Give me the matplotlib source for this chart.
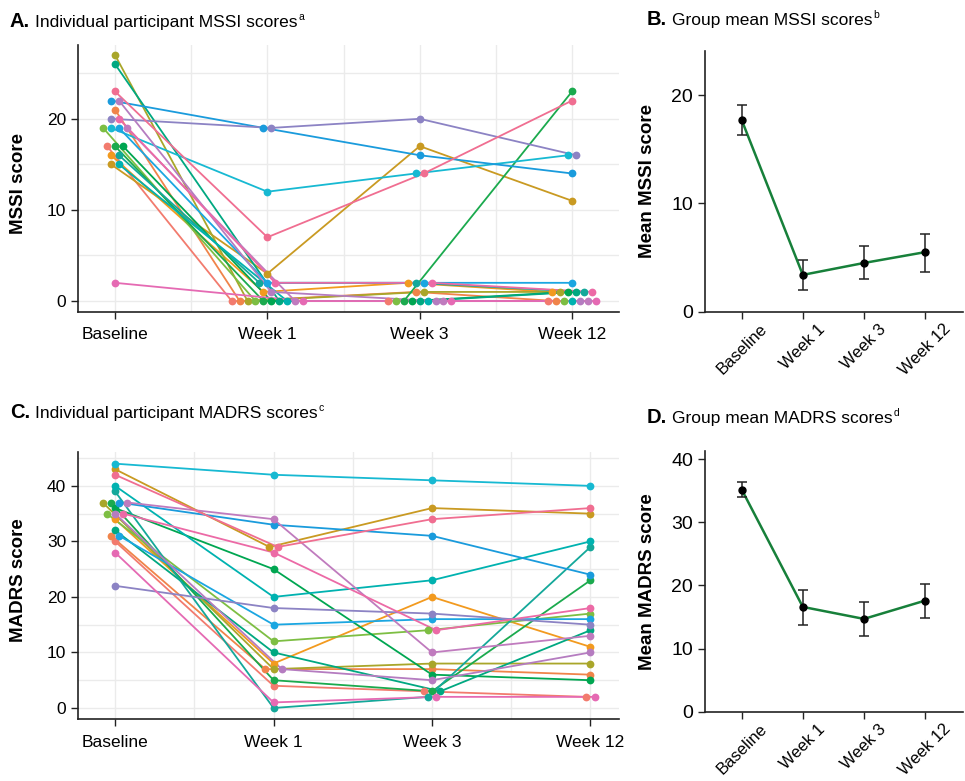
import matplotlib
matplotlib.use('Agg')
import matplotlib.pyplot as plt
import numpy as np

plt.rcParams['font.family'] = ['Liberation Sans', 'DejaVu Sans']

visits = ['Baseline', 'Week 1', 'Week 3', 'Week 12']

# one colour per participant (hue order)
colors = ['#F27B6E', '#F0844A', '#F29A1F', '#C99A22', '#A9A62A',
          '#7DBE43', '#1BAA4E', '#00A651', '#00A881', '#14A89A',
          '#00B2B0', '#17B9D2', '#1BA6E1', '#1A9BDC', '#8C83C4',
          '#B57CC0', '#C07BBE', '#E56AB3', '#EC6AA6', '#F06E91']

# MSSI per participant: baseline, wk1, wk3, wk12
mssi = [[17, 0, 0, 0], [21, 0, 1, 0], [16, 1, 2, 1], [15, 3, 17, 11],
        [27, 0, 1, 1], [19, 0, 0, 0], [17, 0, 0, 23], [17, 0, 0, 1],
        [26, 0, 0, 1], [16, 2, 2, 1], [15, 0, 0, 0], [19, 12, 14, 16],
        [19, 2, 2, 2], [22, 19, 16, 14], [20, 19, 20, 16], [22, 1, 0, 0],
        [19, 0, 0, 0], [2, 0, 0, 0], [20, 2, 2, 1], [23, 7, 14, 22]]

# MADRS per participant
madrs = [[30, 4, 3, 2], [31, 7, 7, 6], [34, 8, 20, 11], [43, 29, 36, 35],
         [37, 7, 8, 8], [35, 12, 14, 17], [37, 5, 3, 23], [36, 25, 6, 5],
         [32, 10, 3, 14], [39, 0, 2, 29], [40, 20, 23, 30], [44, 42, 41, 40],
         [31, 15, 16, 16], [37, 33, 31, 24], [22, 18, 17, 15], [35, 7, 5, 10],
         [37, 34, 10, 13], [28, 1, 2, 2], [35, 28, 14, 18], [42, 29, 34, 36]]

mssi_mean = [17.7, 3.4, 4.5, 5.5]
mssi_lo = [16.3, 2.0, 3.0, 3.7]
mssi_hi = [19.1, 4.8, 6.1, 7.2]

madrs_mean = [35.2, 16.6, 14.7, 17.6]
madrs_lo = [34.0, 13.8, 12.0, 14.8]
madrs_hi = [36.4, 19.3, 17.4, 20.3]

W, H = 965, 781
fig = plt.figure(figsize=(W / 100, H / 100), dpi=100)


def box(l, t, r, b):
    return [l / W, 1 - b / H, (r - l) / W, (b - t) / H]


def dodge(scores, step=0.052):
    scores = np.array(scores, float)
    off = np.zeros_like(scores)
    for j in range(scores.shape[1]):
        for v in np.unique(scores[:, j]):
            idx = np.where(scores[:, j] == v)[0]
            off[idx, j] = (np.arange(len(idx)) - (len(idx) - 1) / 2) * step
    return off


def individual(ax, scores, ylabel, ymax, ylim, xlim, ylab_y):
    x = np.arange(len(visits))
    off = dodge(scores)
    for i, row in enumerate(scores):
        ax.plot(x + off[i], row, color=colors[i], lw=1.3, zorder=2)
    for i, row in enumerate(scores):
        ax.plot(x + off[i], row, 'o', color=colors[i], ms=5.6, mec='none', zorder=3)
    ax.set_xlim(xlim)
    ax.set_ylim(ylim)
    ax.set_xticks(x)
    ax.set_xticklabels(visits)
    ax.set_xticks([0.5, 1.5, 2.5], minor=True)
    ax.set_yticks(np.arange(0, ymax + 1, 10))
    ax.set_yticks(np.arange(5, ylim[1], 10), minor=True)
    ax.tick_params(axis='both', which='major', labelsize=12.5, length=5, width=1, color='#222222')
    ax.tick_params(axis='x', which='major', pad=6)
    ax.tick_params(axis='both', which='minor', length=0)
    ax.grid(True, which='both', color='#EBEBEB', lw=1)
    ax.set_axisbelow(True)
    for s in ['top', 'right']:
        ax.spines[s].set_visible(False)
    for s in ['left', 'bottom']:
        ax.spines[s].set_color('#222222')
        ax.spines[s].set_linewidth(1.2)
    ax.set_ylabel(ylabel, fontsize=13.5, fontweight='bold')
    ax.yaxis.set_label_coords(-0.094, ylab_y)


def group(ax, mean, lo, hi, ylabel, yticks, ylim):
    x = np.arange(len(visits))
    mean = np.array(mean)
    err = [mean - np.array(lo), np.array(hi) - mean]
    ax.plot(x, mean, color='#17803A', lw=1.8, zorder=2)
    ax.errorbar(x, mean, yerr=err, fmt='o', color='black', ms=5, ecolor='#222222',
                elinewidth=1.1, capsize=3.3, capthick=1.1, zorder=3)
    ax.set_xlim(-0.6, 3.62)
    ax.set_ylim(ylim)
    ax.set_xticks(x)
    ax.set_xticklabels(visits, rotation=45, ha='center')
    ax.set_yticks(yticks)
    ax.tick_params(axis='y', labelsize=14, length=5, width=1, color='#222222')
    ax.tick_params(axis='x', labelsize=12, length=5, width=1, color='#222222', pad=2)
    for s in ['top', 'right']:
        ax.spines[s].set_visible(False)
    for s in ['left', 'bottom']:
        ax.spines[s].set_color('#222222')
        ax.spines[s].set_linewidth(1.2)
    ax.set_ylabel(ylabel, fontsize=13.5, fontweight='bold')
    ax.yaxis.set_label_coords(-0.19, 0.5)


def title(x, y, letter, text, sup):
    r = fig.canvas.get_renderer()
    t = fig.text(x / W, 1 - y / H, letter, fontsize=14.5, fontweight='bold', va='baseline')
    bb = t.get_window_extent(r)
    t = fig.text(bb.x1 / W + 5 / W, 1 - y / H, text, fontsize=12.5, va='baseline')
    bb = t.get_window_extent(r)
    fig.text(bb.x1 / W + 1 / W, 1 - (y - 7) / H, sup, fontsize=7.5, va='baseline')


axA = fig.add_axes(box(78, 45, 619, 311.7))
individual(axA, mssi, 'MSSI score', 20, (-1.17, 28.1), (-0.243, 3.308), 0.48)

axC = fig.add_axes(box(78, 452, 619, 719.3))
individual(axC, madrs, 'MADRS score', 40, (-2.04, 46.1), (-0.234, 3.18), 0.52)

axB = fig.add_axes(box(705, 50.7, 963, 311.7))
group(axB, mssi_mean, mssi_lo, mssi_hi, 'Mean MSSI score', [0, 10, 20], (0, 24.1))

axD = fig.add_axes(box(705, 451, 963, 711.7))
group(axD, madrs_mean, madrs_lo, madrs_hi, 'Mean MADRS score', [0, 10, 20, 30, 40], (0, 41.3))

title(10, 27, 'A.', 'Individual participant MSSI scores', 'a')
title(647, 25, 'B.', 'Group mean MSSI scores', 'b')
title(10, 418, 'C.', 'Individual participant MADRS scores', 'c')
title(647, 423, 'D.', 'Group mean MADRS scores', 'd')

plt.savefig('out.png', dpi=100)
